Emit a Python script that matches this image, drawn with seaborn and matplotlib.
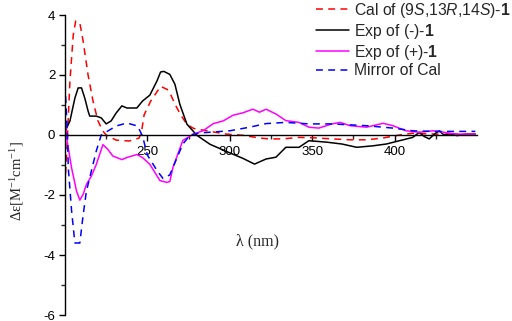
import matplotlib
matplotlib.use("Agg")
import matplotlib.pyplot as plt
import seaborn as sns
import numpy as np
import pandas as pd

# ---- data ----
cal_wl = [200, 201, 202, 203, 205, 206.5, 209, 211, 214, 217, 220, 223, 225, 231, 239, 245, 246.5,
          248, 252, 258, 262, 264, 267, 270, 274, 278, 288, 298, 308, 318, 324, 332, 342, 350, 362,
          373, 383, 393, 403, 411, 420, 430, 440, 449]
cal_val = [-1.7, -0.6, 0.6, 1.8, 3.33, 3.8, 3.73, 3.13, 2.0, 1.13, 0.47, 0.13, 0.0, -0.17, -0.2, -0.1, 0.13,
           0.67, 1.13, 1.62, 1.52, 1.36, 1.0, 0.69, 0.35, 0.22, 0.12, 0.03, -0.01, -0.1, -0.13, -0.13, -0.08,
           -0.09, -0.13, -0.16, -0.16, -0.1, 0.0, 0.06, 0.04, 0.02, 0.01, 0.0]

neg_wl = [200, 201, 203, 206, 208, 210, 212, 214, 215, 219, 222, 225, 228, 231, 234.5, 237.6, 243.6,
          247, 251.5, 255.8, 258, 260, 263.6, 266.7, 269.7, 274, 280, 288, 298, 308, 315, 322, 328,
          334, 342, 348, 359, 368, 377, 387, 395, 403, 411, 415, 418, 421, 424, 427, 430, 433, 438, 443, 449]
neg_val = [0.13, 0.23, 0.47, 1.23, 1.57, 1.57, 1.23, 0.8, 0.63, 0.63, 0.57, 0.37, 0.47, 0.73, 0.97, 0.9, 0.9,
           1.13, 1.33, 1.8, 2.1, 2.12, 2.02, 1.69, 1.02, 0.36, -0.01, -0.31, -0.55, -0.78, -0.97, -0.8, -0.74,
           -0.41, -0.41, -0.19, -0.24, -0.3, -0.41, -0.36, -0.3, -0.19, -0.08, 0.09, -0.05, -0.13, 0.02, 0.14,
           0.0, 0.05, -0.02, 0.03, 0.03]

pos_wl = [200, 201, 204, 207, 209, 211, 213, 216, 219, 223, 226, 229, 234.5, 237.6, 243.6, 247, 251.5,
          257.6, 261.8, 263.6, 265.5, 271.5, 277.6, 284, 290, 296, 302, 308, 314, 318, 322, 328, 334,
          342, 348, 354, 362, 367, 373, 383, 393, 399, 407, 415, 423, 427, 433, 439, 449]
pos_val = [0.65, -0.1, -1.1, -1.87, -2.17, -1.98, -1.65, -1.37, -0.98, -0.32, -0.48, -0.7, -0.82, -0.75,
           -0.65, -0.75, -0.98, -1.52, -1.58, -1.55, -1.08, -0.18, 0.02, 0.15, 0.38, 0.47, 0.66, 0.74, 0.86,
           0.76, 0.86, 0.7, 0.48, 0.42, 0.26, 0.23, 0.37, 0.42, 0.31, 0.26, 0.39, 0.31, 0.14, 0.09, 0.14,
           0.12, 0.06, 0.03, 0.03]

mir_wl = [200, 201.5, 202, 204, 206, 209, 211, 213, 216, 219, 222, 231, 237.6, 244, 247, 250, 256,
          259.5, 263.6, 265.5, 271.5, 276, 282, 290, 300, 312, 322, 334, 348, 362, 383, 399, 411,
          423, 435, 449]
mir_val = [1.7, 0.0, -1.1, -2.53, -3.6, -3.6, -2.67, -1.87, -1.2, -0.53, 0.0, 0.3, 0.4, 0.3, -0.03,
           -0.67, -1.2, -1.45, -1.33, -1.08, -0.3, 0.0, 0.07, 0.1, 0.14, 0.26, 0.38, 0.42, 0.37, 0.37,
           0.31, 0.23, 0.14, 0.12, 0.12, 0.12]

labels = [r"Cal of (9$\it{S}$,13$\it{R}$,14$\it{S}$)-$\bf{1}$",
          r"Exp of (-)-$\bf{1}$",
          r"Exp of (+)-$\bf{1}$",
          "Mirror of Cal"]

# ---- style ----
sns.set_style("ticks")
plt.rcParams["font.family"] = ["Liberation Sans", "DejaVu Sans"]
plt.rcParams["mathtext.fontset"] = "custom"
plt.rcParams["mathtext.rm"] = "Liberation Sans"
plt.rcParams["mathtext.it"] = "Liberation Sans:italic"
plt.rcParams["mathtext.bf"] = "Liberation Sans:bold"

fig = plt.figure(figsize=(5.12, 3.21), dpi=100)
ax = fig.add_axes([65 / 512, 1 - 315 / 321, (477 - 65) / 512, 300 / 321])

lw = 1.1
dash = (0, (4.5, 3.5))
sns.lineplot(x=cal_wl, y=cal_val, ax=ax, color="#ff0000", lw=lw, linestyle=dash, label=labels[0],
             estimator=None, sort=False)
sns.lineplot(x=neg_wl, y=neg_val, ax=ax, color="black", lw=lw, label=labels[1],
             estimator=None, sort=False)
sns.lineplot(x=pos_wl, y=pos_val, ax=ax, color="#ff00ff", lw=lw, label=labels[2],
             estimator=None, sort=False)
sns.lineplot(x=mir_wl, y=mir_val, ax=ax, color="#0000ff", lw=lw, linestyle=dash, label=labels[3],
             estimator=None, sort=False)

ax.set_xlim(200, 450)
ax.set_ylim(-6, 4)
ax.spines["top"].set_visible(False)
ax.spines["right"].set_visible(False)
ax.spines["bottom"].set_position(("data", 0))
for s in ("left", "bottom"):
    ax.spines[s].set_linewidth(1.0)
    ax.spines[s].set_color("black")

ax.set_xticks([250, 300, 350, 400])
ax.set_xticks([225, 275, 325, 375, 425], minor=True)
ax.set_yticks([-6, -4, -2, 0, 2, 4])
ax.set_yticks([-5, -3, -1, 1, 3], minor=True)
ax.set_yticklabels(["-6", "-4", "-2", "0", "2", "4"])
ax.tick_params(axis="both", which="major", direction="out", length=4, width=1.0,
               labelsize=9.5, colors="black")
ax.tick_params(axis="x", which="major", pad=4)
ax.tick_params(axis="y", which="major", pad=3)
ax.tick_params(axis="both", which="minor", direction="out", length=2.6, width=1.0)
ax.set_xlabel("")
ax.set_ylabel("")

fig.text(258 / 512, 1 - 241 / 321, "λ (nm)", family=["Liberation Serif", "DejaVu Serif"],
         fontsize=11.5, ha="center", va="center")
fig.text(17 / 512, 1 - 181 / 321, r"Δε[M$^{\mathregular{-1}}$cm$^{\mathregular{-1}}$]",
         family=["Liberation Serif", "DejaVu Serif"],
         fontsize=10.5, ha="center", va="center", rotation=90)

ax.get_legend().remove()
handles, labs = ax.get_legend_handles_labels()
fig.legend(handles, labs, loc="upper right", bbox_to_anchor=(0.998, 1.0), frameon=False,
           fontsize=11.3, handlelength=2.1, handletextpad=0.3, labelspacing=0.12,
           borderpad=0.05, borderaxespad=0.0)

fig.savefig("out.png", dpi=100)
